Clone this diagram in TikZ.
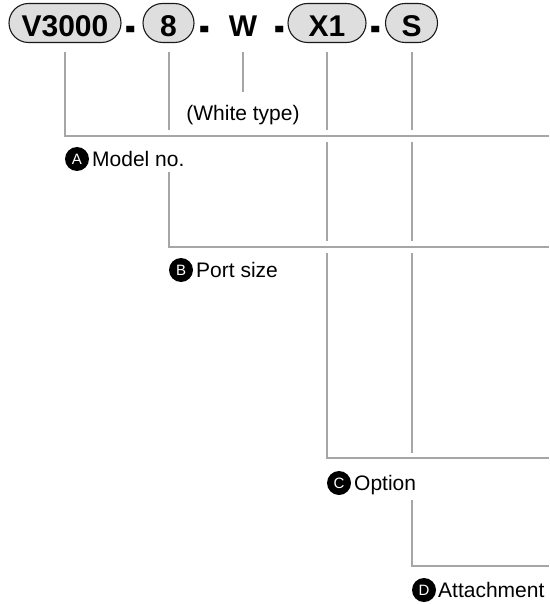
\documentclass[tikz,border=0pt]{standalone}
\usepackage{graphicx}
\usepackage{fontspec}
\setmainfont{Liberation Sans}
\begin{document}
\begin{tikzpicture}[x=1pt,y=-1pt,
  topfont/.style={font=\fontsize{30}{30}\selectfont\bfseries},
  pill/.style={topfont, draw=black!90, line width=1.1pt, fill=black!13, rounded corners=19.5pt,
    minimum height=39pt, inner sep=0pt, text height=28pt, text depth=0pt},
  sepnode/.style={topfont, inner sep=0pt, text height=28pt, text depth=0pt},
  dashnode/.style={topfont, inner sep=1pt},
  gline/.style={draw=black!35, line width=2pt},
  bullet/.style={circle, fill=black, text=white, minimum size=24pt, inner sep=0pt,
    font=\fontsize{15}{15}\selectfont, text height=10.5pt, text depth=0pt},
  lab/.style={anchor=west, inner sep=0pt, font=\fontsize{21}{21}\selectfont,
    text height=15pt, text depth=0pt}]
\useasboundingbox (0,0) rectangle (549,604);

% code row
\node[pill, minimum width=112pt] (v) at (65,23) {V3000};
\node[dashnode] (d1) at (131,35) {\scalebox{1.05}[1.8]{-}};
\node[pill, minimum width=51pt] (p8) at (168.5,23) {8};
\node[dashnode] (d2) at (205,35) {\scalebox{1.05}[1.8]{-}};
\node[sepnode] (w) at (243,23) {W};
\node[dashnode] (d3) at (280,35) {\scalebox{1.05}[1.8]{-}};
\node[pill, minimum width=78pt] (x1) at (327,23) {X1};
\node[dashnode] (d4) at (376,35) {\scalebox{1.05}[1.8]{-}};
\node[pill, minimum width=52pt] (s) at (411.5,23) {S};

\node[lab, anchor=center] (wt) at (243,113) {(White type)};

% labels
\node[bullet] (bA) at (77,159) {A};
\node[lab] (tA) at (92,159) {Model no.};
\node[bullet] (bB) at (181,270) {B};
\node[lab] (tB) at (196,270) {Port size};
\node[bullet] (bC) at (339,483) {C};
\node[lab] (tC) at (354,483) {Option};
\node[bullet] (bD) at (424,590) {D};
\node[lab] (tD) at (438,590) {Attachment};

% reference rows
\coordinate (aR) at (549,136);
\coordinate (bR) at (549,247);
\coordinate (cR) at (549,458);
\coordinate (dR) at (549,566);
\coordinate (ya1) at (0,130);
\coordinate (ya2) at (0,142);
\coordinate (yb1) at (0,241);
\coordinate (yb2) at (0,253);
\coordinate (yc1) at (0,453);
\coordinate (ya3) at (0,172);
\coordinate (yc3) at (0,500);

% connectors
\draw[gline] ([yshift=-9pt]v.south) -- (v.south |- aR) -- (aR);
\draw[gline] ([yshift=-9pt]p8.south) -- (p8.south |- ya1);
\draw[gline] (p8.south |- ya3) -- (p8.south |- bR) -- (bR);
\draw[gline] ([yshift=-15pt]w.south) -- ([yshift=13.5pt]wt.north);
\draw[gline] ([yshift=-9pt]x1.south) -- (x1.south |- ya1);
\draw[gline] (x1.south |- ya2) -- (x1.south |- yb1);
\draw[gline] (x1.south |- yb2) -- (x1.south |- cR) -- (cR);
\draw[gline] ([yshift=-9pt]s.south) -- (s.south |- ya1);
\draw[gline] (s.south |- ya2) -- (s.south |- yb1);
\draw[gline] (s.south |- yb2) -- (s.south |- yc1);
\draw[gline] (s.south |- yc3) -- (s.south |- dR) -- (dR);
\end{tikzpicture}
\end{document}
